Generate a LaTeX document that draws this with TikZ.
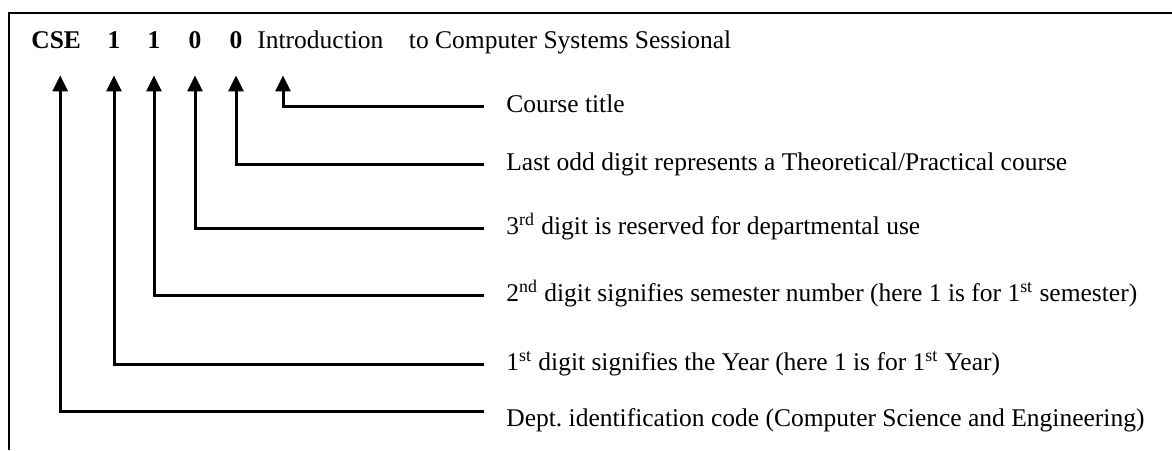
\documentclass[tikz,border=0pt]{standalone}
\usepackage{fontspec}
\setmainfont{Liberation Serif}
\usetikzlibrary{arrows.meta}
\newcommand{\labelsize}{\fontsize{12.75}{15.3}\selectfont}
\tikzset{
  head/.style    = {inner sep=0pt, text depth=0pt},
  code/.style    = {head, font=\labelsize\bfseries},
  note/.style    = {anchor=west, inner sep=0pt, text height=0.8em, text depth=0.2em},
  pointer/.style = {-{Triangle[width=7.5pt,length=8pt]}, line width=1.5pt, shorten >=13.5pt},
  frame/.style   = {line width=1pt},
}

\begin{document}
\begin{tikzpicture}[x=0.5pt, y=-0.5pt, font=\labelsize]
  \useasboundingbox (0,0) rectangle (1172,450);
  \draw[frame] (1172,12.5) -- (9,12.5) -- (9,450);

  % course code and title
  \node[code, anchor=base west] (cse) at (31,48) {CSE};
  \node[code, anchor=base] (yr)  at (114,48) {1};
  \node[code, anchor=base] (sem) at (154,48) {1};
  \node[code, anchor=base] (dep) at (195,48) {0};
  \node[code, anchor=base] (odd) at (236,48) {0};
  \node[head, anchor=base west] (title) at (257,48) {Introduction\hspace{0.75em} to Computer Systems Sessional};

  % meaning of each part
  \node[note] (lbltitle) at (506,106) {Course title};
  \node[note] (lblodd)   at (506,164) {Last odd digit represents a Theoretical/Practical course};
  \node[note] (lbldep)   at (506,228) {3\textsuperscript{rd} digit is reserved for departmental use};
  \node[note] (lblsem)   at (506,295) {2\textsuperscript{nd} digit signifies semester number (here 1 is for 1\textsuperscript{st} semester)};
  \node[note] (lblyr)    at (506,364) {1\textsuperscript{st} digit signifies the Year (here 1 is for 1\textsuperscript{st} Year)};
  \node[note] (lblcse)   at (506,420) {Dept.\ identification code (Computer Science and Engineering)};

  \draw[pointer] ([xshift=-11pt]lbltitle.west) -| ([xshift=13pt]title.south west);
  \draw[pointer] ([xshift=-11pt]lblodd.west) -| (odd.south);
  \draw[pointer] ([xshift=-11pt]lbldep.west) -| (dep.south);
  \draw[pointer] ([xshift=-11pt]lblsem.west) -| (sem.south);
  \draw[pointer] ([xshift=-11pt]lblyr.west) -| (yr.south);
  \draw[pointer] ([xshift=-11pt,yshift=4.5pt]lblcse.west) -| ([xshift=2pt]cse.south);
\end{tikzpicture}
\end{document}
